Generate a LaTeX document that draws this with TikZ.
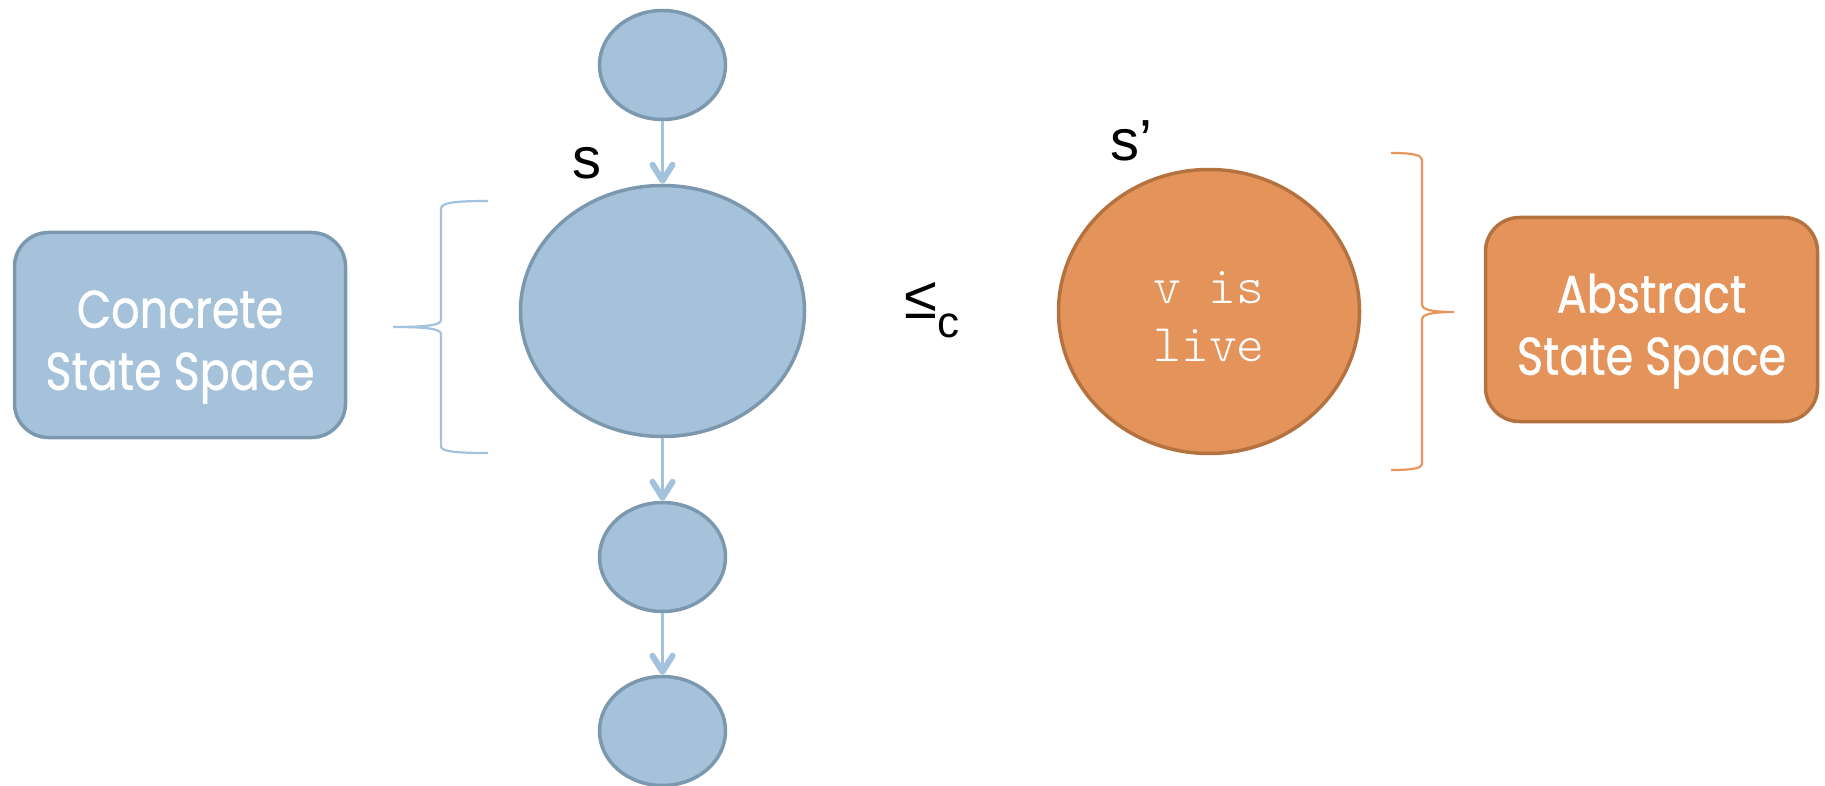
\documentclass[tikz,border=0pt]{standalone}
\usepackage{fontspec}
\setmainfont{Liberation Sans}
\newfontfamily\boxfont[FakeStretch=0.84,FakeBold=0.8]{Poppins}
\newfontfamily\codefont{lmmonolt10-regular.otf}
\usetikzlibrary{shapes.geometric,arrows.meta}
\definecolor{bluefill}{RGB}{165,194,218}
\definecolor{bluedark}{RGB}{124,152,174}
\definecolor{bluelight}{RGB}{163,194,222}
\definecolor{orangefill}{RGB}{228,148,91}
\definecolor{orangedark}{RGB}{180,114,64}
\definecolor{orangelight}{RGB}{232,150,92}
\tikzset{
  state/.style={ellipse, draw=bluedark, fill=bluefill, line width=3.5pt, inner sep=0pt},
  absstate/.style={ellipse, draw=orangedark, fill=orangefill, line width=3.5pt, inner sep=0pt},
  codetext/.style={color=white, inner sep=0pt, align=center,
    font=\codefont\fontsize{53}{58}\selectfont},
  spacebox/.style={rectangle, rounded corners=34pt, line width=3.5pt, inner sep=0pt},
  boxtext/.style={color=white, inner sep=0pt, align=center,
    font=\boxfont\fontsize{53}{62}\selectfont},
  flow/.style={draw=bluelight, line width=2.2pt,
    -{Straight Barb[length=16pt,width=20pt,line width=6pt 0,round]}},
  bracepath/.style={line width=2.2pt},
  lbl/.style={inner sep=0pt, font=\fontsize{58}{58}\selectfont}
}
\begin{document}
\begin{tikzpicture}[x=1pt,y=-1pt]
\useasboundingbox (0,0) rectangle (1825,786);

% states
\node[state, minimum width=126pt, minimum height=109pt] (t0) at (662.5,65) {};
\node[state, minimum width=284pt, minimum height=251pt] (s) at (662.5,311) {};
\node[state, minimum width=126pt, minimum height=109pt] (e1) at (662.5,557) {};
\node[state, minimum width=126pt, minimum height=109pt] (e2) at (662.5,731) {};
\node[absstate, minimum width=301pt, minimum height=284pt] (sp) at (1209,311.5) {};
\node[codetext] (sptext) at (1209,317) {v is\\live};

% transitions
\draw[flow] (t0.south) -- (s.north);
\draw[flow] (s.south) -- (e1.north);
\draw[flow] (e1.south) -- (e2.north);

% boxes
\node[spacebox, draw=bluedark, fill=bluefill, minimum width=331pt, minimum height=205pt] (cs) at (180,335) {};
\node[boxtext] (cstext) at (180,347) {Concrete\\State Space};
\node[spacebox, draw=orangedark, fill=orangefill, minimum width=332pt, minimum height=204pt] (as) at (1651.5,319.5) {};
\node[boxtext] (astext) at (1651.5,331) {Abstract\\State Space};

% braces
\draw[bracepath, draw=bluelight] (488,201) .. controls (452,201) and (441,203) .. (441,209) -- (441,320) .. controls (441,325) and (428,327) .. (393,327) .. controls (428,327) and (441,329) .. (441,334) -- (441,446) .. controls (441,451) and (452,453) .. (488,453);
\draw[bracepath, draw=orangelight] (1391,153) .. controls (1413,153) and (1422,155) .. (1422,160) -- (1422,305) .. controls (1422,309) and (1430,312) .. (1454,312) .. controls (1430,312) and (1422,315) .. (1422,319) -- (1422,464) .. controls (1422,468) and (1413,470) .. (1391,470);

% labels
\node[lbl, anchor=base] (slabel) at (587,179) {s};
\node[lbl, anchor=base west] (splabel) at (1110,161) {s’};
\node[lbl, anchor=base west, font=\fontsize{60}{60}\selectfont] (leq) at (904,318) {≤\raisebox{-19pt}{\fontsize{44}{44}\selectfont c}};
\end{tikzpicture}
\end{document}
